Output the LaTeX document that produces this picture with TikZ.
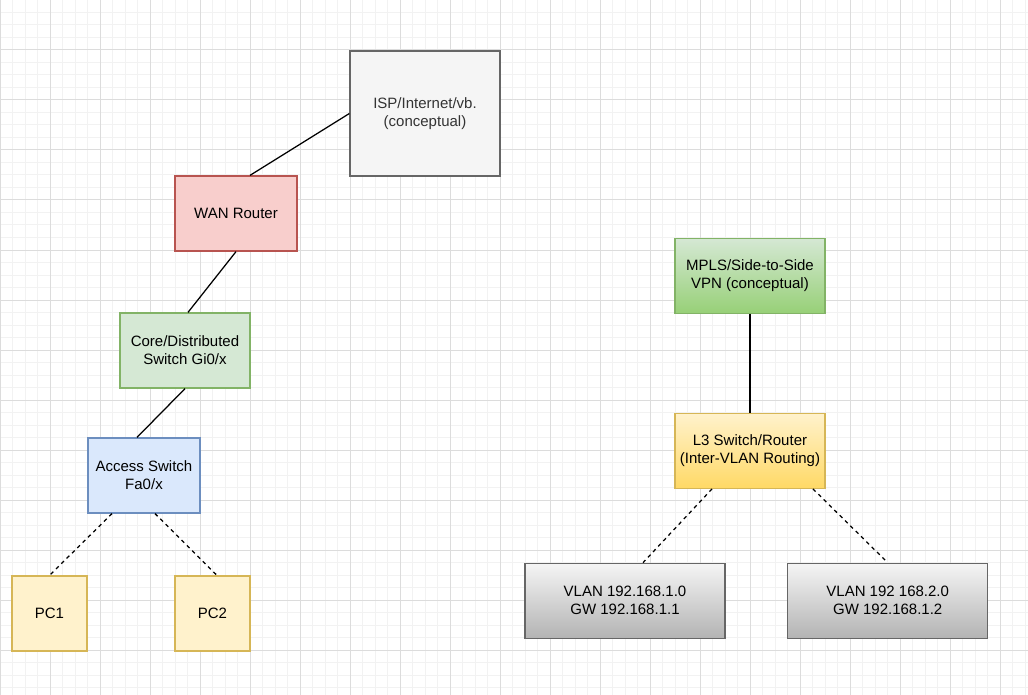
\documentclass[tikz,border=0pt]{standalone}
\usepackage{fontspec}
\setmainfont{Liberation Sans}
\usetikzlibrary{calc}
\definecolor{gridminor}{HTML}{F2F2F2}
\definecolor{gridmajor}{HTML}{DCDCDC}
\definecolor{grayfill}{HTML}{F5F5F5}
\definecolor{graystroke}{HTML}{666666}
\definecolor{graytext}{HTML}{333333}
\definecolor{redfill}{HTML}{F8CECC}
\definecolor{redstroke}{HTML}{B85450}
\definecolor{greenfill}{HTML}{D5E8D4}
\definecolor{greenstroke}{HTML}{82B366}
\definecolor{greengrad}{HTML}{97D077}
\definecolor{bluefill}{HTML}{DAE8FC}
\definecolor{bluestroke}{HTML}{6C8EBF}
\definecolor{yellowfill}{HTML}{FFF2CC}
\definecolor{yellowstroke}{HTML}{D6B656}
\definecolor{yellowgrad}{HTML}{FFD966}
\definecolor{graygrad}{HTML}{B3B3B3}
\tikzset{
  box/.style={rectangle, inner sep=0pt, line width=1.25pt, align=center,
    font=\fontsize{15}{18}\selectfont},
  isp/.style={box, fill=grayfill, draw=graystroke, text=graytext},
  redbox/.style={box, fill=redfill, draw=redstroke},
  greenbox/.style={box, fill=greenfill, draw=greenstroke},
  bluebox/.style={box, fill=bluefill, draw=bluestroke},
  yellowbox/.style={box, fill=yellowfill, draw=yellowstroke},
  greengradbox/.style={box, top color=greenfill, bottom color=greengrad, draw=greenstroke},
  yellowgradbox/.style={box, top color=yellowfill, bottom color=yellowgrad, draw=yellowstroke},
  graygradbox/.style={box, top color=grayfill, bottom color=graygrad, draw=graystroke},
  link/.style={line width=1.25pt, black},
  dlink/.style={line width=1.25pt, black, dash pattern=on 3.75pt off 3.75pt},
}
\begin{document}
\begin{tikzpicture}[x=1pt,y=-1pt]
\useasboundingbox (0,0) rectangle (1028,695);
\fill[white] (0,0) rectangle (1028,695);
% grid
\foreach \i in {0,...,82} {
  \draw[gridminor, line width=1pt] (\i*12.5,0) -- (\i*12.5,695);
}
\foreach \i in {0,...,55} {
  \draw[gridminor, line width=1pt] (0,\i*12.5) -- (1028,\i*12.5);
}
\foreach \i in {0,...,20} {
  \draw[gridmajor, line width=1pt] (\i*50,0) -- (\i*50,695);
}
\foreach \i in {0,...,13} {
  \draw[gridmajor, line width=1pt] (0,\i*50) -- (1028,\i*50);
}
% nodes
\node[isp, minimum width=150pt, minimum height=125pt] (isp) at (425,113.5) {ISP/Internet/vb.\\(conceptual)};
\node[redbox, minimum width=122pt, minimum height=75pt] (wan) at (236,213.5) {WAN Router};
\node[greenbox, minimum width=130pt, minimum height=75pt] (core) at (185,350.5) {Core/Distributed\\Switch Gi0/x};
\node[bluebox, minimum width=112pt, minimum height=75pt] (access) at (144,475.5) {Access Switch\\Fa0/x};
\node[yellowbox, minimum width=75pt, minimum height=75pt] (pc1) at (49.5,613.5) {PC1};
\node[yellowbox, minimum width=75pt, minimum height=75pt] (pc2) at (212.5,613.5) {PC2};
\node[greengradbox, minimum width=150pt, minimum height=75pt] (mpls) at (750,275.8) {MPLS/Side-to-Side\\VPN (conceptual)};
\node[yellowgradbox, minimum width=150pt, minimum height=75pt] (l3) at (750,450.8) {L3 Switch/Router\\(Inter-VLAN Routing)};
\node[graygradbox, minimum width=200pt, minimum height=75pt] (vlan1) at (625,600.8) {VLAN 192.168.1.0\\GW 192.168.1.1};
\node[graygradbox, minimum width=200pt, minimum height=75pt] (vlan2) at (887.7,600.8) {VLAN 192 168.2.0\\GW 192.168.1.2};
% connectors
\draw[link] (isp.west) -- ([xshift=14pt]wan.north);
\draw[link] (wan.south) -- ([xshift=3pt]core.north);
\draw[link] (core.south) -- ([xshift=-7pt]access.north);
\draw[dlink] ([xshift=-32pt]access.south) -- (pc1.north);
\draw[dlink] ([xshift=11pt]access.south) -- ([xshift=4.5pt]pc2.north);
\draw[link] (mpls.south) -- (l3.north);
\draw[dlink] ([xshift=-38pt]l3.south) -- ([xshift=18pt]vlan1.north);
\draw[dlink] ([xshift=63pt]l3.south) -- (vlan2.north);
\end{tikzpicture}
\end{document}
